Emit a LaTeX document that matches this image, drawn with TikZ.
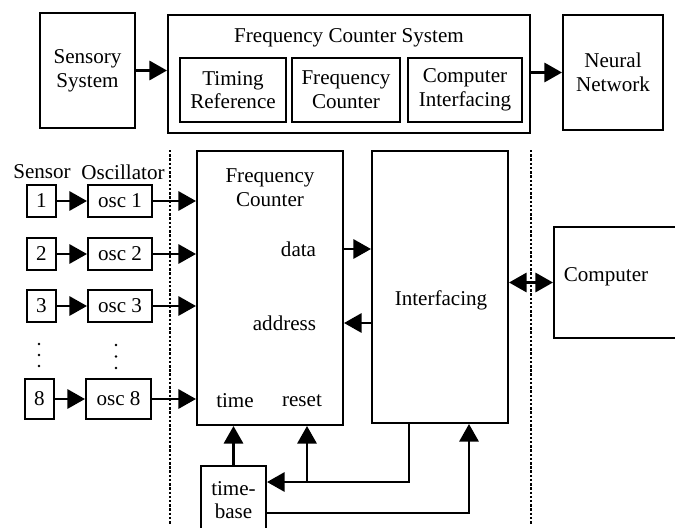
\documentclass[tikz,border=0pt]{standalone}
\usepackage{fontspec}
\setmainfont{Liberation Serif}
\usepackage{tikz}
\usetikzlibrary{arrows.meta}

\begin{document}
\begin{tikzpicture}[
		x=0.02cm,
		y=-0.02cm,
		line width=1.2pt,
		>={Triangle[length=10pt,width=11pt]},
		every node/.style={font=\fontsize{12}{13.5}\selectfont}
	]
		\tikzstyle{box}=[
			rectangle,
			draw,
			inner sep=0pt,
			align=center
		]
		\tikzstyle{sep}=[
			densely dotted,
			line width=1.4pt
		]

		\useasboundingbox (0,0) rectangle (675,527);
		\clip (0,0) rectangle (675,527);

		% upper part
		\node[box, minimum width=1.9cm, minimum height=2.3cm] (sensory) at (87.5,70.5) {Sensory\\System};
		\node[box, minimum width=7.24cm, minimum height=2.36cm] (fcs) at (349,74) {};
		\node (fcstitle) at (349,38) {Frequency Counter System};
		\node[box, minimum width=2.12cm, minimum height=1.28cm] (timing) at (233,90) {Timing\\Reference};
		\node[box, minimum width=2.16cm, minimum height=1.28cm] (freqc) at (346,90) {Frequency\\Counter};
		\node[box, minimum width=2.28cm, minimum height=1.28cm] (compi) at (465,90) {Computer\\Interfacing};
		\node[box, minimum width=2.0cm, minimum height=2.3cm] (neural) at (613,72.5) {Neural\\Network};
		\draw[->] (sensory.east) -- (sensory.east -| fcs.west);
		\draw[->] (neural.west -| fcs.east) -- (neural.west);

		% separators
		\draw[sep] (170,150) -- (170,524);
		\draw[sep] (531,150) -- (531,524);

		% sensors and oscillators
		\node (sensorlbl) at (42,172) {Sensor};
		\node (osclbl) at (123,172) {Oscillator};
		\foreach \i/\y in {1/201,2/254,3/306}{
			\node[box, minimum width=0.58cm, minimum height=0.64cm] (s\i) at (41.5,\y) {\i};
			\node[box, minimum width=1.28cm, minimum height=0.64cm] (o\i) at (120,\y) {osc \i};
		}
		\node[box, minimum width=0.58cm, minimum height=0.8cm] (s8) at (39.5,399) {8};
		\node[box, minimum width=1.3cm, minimum height=0.8cm] (o8) at (118.5,399) {osc 8};
		\foreach \k in {0,1,2}{
			\fill (39,344+11*\k) circle (1.4);
			\fill (116,345+11.5*\k) circle (1.4);
		}

		% frequency counter and interfacing
		\node[box, minimum width=2.92cm, minimum height=5.48cm] (fc) at (270,288) {};
		\node[align=center] (fctitle) at (270,188) {Frequency\\Counter};
		\node[anchor=east] (datalbl) at (323,249) {data};
		\node[anchor=east] (addrlbl) at (323,323) {address};
		\node (timelbl) at (235,401) {time};
		\node (resetlbl) at (302,401) {reset};
		\node[box, minimum width=2.72cm, minimum height=5.44cm] (interf) at (440,287) {};
		\node (interflbl) at (441,300) {Interfacing};
		\node[box, minimum width=2.8cm, minimum height=2.22cm] (computer) at (624,282.5) {};
		\node (complbl) at (606,277) {Computer};
		\node[box, minimum width=1.3cm, minimum height=1.36cm] (timebase) at (233.5,500) {time-\\base};

		\foreach \i in {1,2,3,8}{
			\draw[->] (s\i) -- (o\i);
			\draw[->] (o\i.east) -- (o\i.east -| fc.west);
		}
		\draw[->] (fc.east |- datalbl) -- (interf.west |- datalbl);
		\draw[->] (interf.west |- addrlbl) -- (fc.east |- addrlbl);
		\draw[<->] (computer.west -| interf.east) -- (computer.west);

		% time-base wiring
		\coordinate (tap) at (409,482);
		\coordinate (rsttap) at (307,482);
		\coordinate (tbcorner) at (469,513);
		\draw[->] (timebase.north) -- (timebase.north |- fc.south);
		\draw[->] (interf.south -| tap) -- (tap) -- (tap -| timebase.east);
		\draw[->] (rsttap) -- (rsttap |- fc.south);
		\draw[->] (tbcorner -| timebase.east) -- (tbcorner) -- (tbcorner |- interf.south);
	\end{tikzpicture}
\end{document}
